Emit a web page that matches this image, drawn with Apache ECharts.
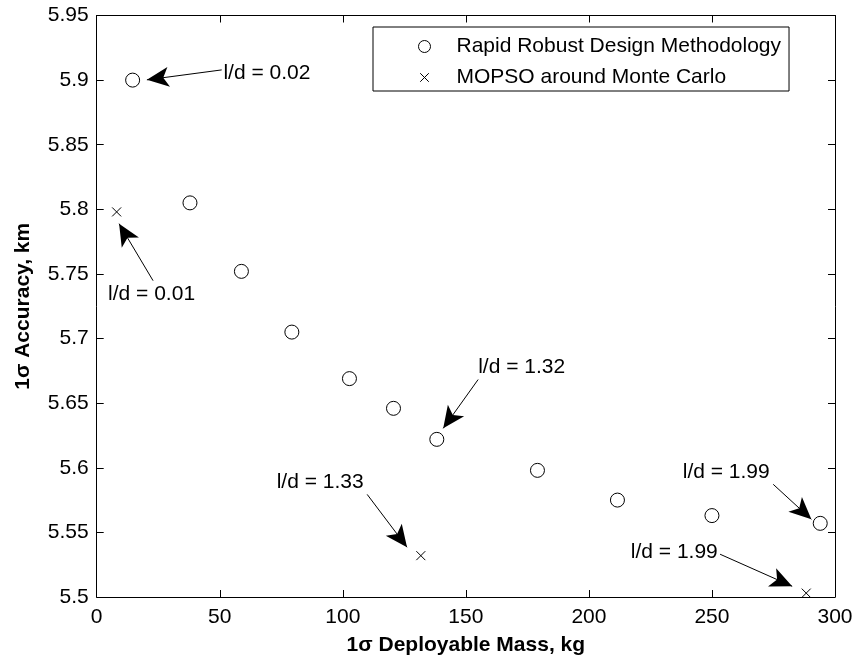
<!DOCTYPE html>
<html><head><meta charset="utf-8">
<script src="https://cdn.jsdelivr.net/npm/echarts@6/dist/echarts.min.js"></script>
<style>html,body{margin:0;padding:0;background:#fff}#chart{width:857px;height:661px}</style>
</head><body><div id="chart"></div>
<script>
// Rapid Robust Design Methodology results (mass kg, accuracy km)
const rrdmMass = [14.6, 37.9, 58.8, 79.3, 102.7, 120.6, 138.2, 179.1, 211.6, 250.0, 294.0];
const rrdmAcc  = [5.900, 5.805, 5.752, 5.705, 5.669, 5.646, 5.622, 5.598, 5.575, 5.563, 5.557];
// MOPSO around Monte Carlo results
const mopsoMass = [8.1, 131.7, 288.3];
const mopsoAcc  = [5.798, 5.532, 5.503];
// Annotations: text, text anchor, arrow start and arrow tip (data units)
const noteText  = ['l/d = 0.02', 'l/d = 0.01', 'l/d = 1.32', 'l/d = 1.33', 'l/d = 1.99', 'l/d = 1.99'];
const noteAt    = [[51.5, 5.9056], [22.3, 5.734], [155.0, 5.6776], [90.8, 5.5887], [255.8, 5.5964], [234.7, 5.5346]];
const noteAlign = ['left', 'center', 'left', 'center', 'center', 'center'];
const arrowFrom = [[50.8, 5.9079], [22.9, 5.7448], [155.0, 5.6683], [109.9, 5.5794], [274.9, 5.5872], [253.3, 5.5331]];
const arrowTo   = [[20.4, 5.9002], [9.1, 5.7889], [140.8, 5.6305], [126.1, 5.5385], [290.4, 5.5601], [282.6, 5.5083]];
// Axis settings
const xMin = 0, xMax = 300, xStep = 50;
const yMin = 5.5, yMax = 5.95, yStep = 0.05;
const seriesNames = ['Rapid Robust Design Methodology', 'MOPSO around Monte Carlo'];

const FONT = "'Liberation Sans', Arial, Helvetica, sans-serif";
const crossPath = 'path://M0,0L10,10M10,0L0,10';
// legend cross drawn inside a larger empty frame so it stays small
const crossLegend = 'path://M-2,-2M12,12M0,0L10,10M10,0L0,10';

const chart = echarts.init(document.getElementById('chart'), null, { renderer: 'canvas' });

const tickStyle = { show: true, inside: true, length: 7, lineStyle: { color: '#000', width: 1 } };
const axisBase = {
  axisLine: { show: true, onZero: false, lineStyle: { color: '#000', width: 1 } },
  axisTick: tickStyle,
  splitLine: { show: false }
};

chart.setOption({
  animation: false,
  backgroundColor: '#fff',
  textStyle: { fontFamily: FONT },
  grid: { left: 96.7, right: 22, top: 15.5, bottom: 63, containLabel: false },
  legend: {
    data: [
      { name: seriesNames[0], icon: 'circle', itemStyle: { color: '#fff', borderColor: '#000', borderWidth: 1 } },
      { name: seriesNames[1], icon: crossLegend, itemStyle: { color: 'none', borderColor: '#000', borderWidth: 1 } }
    ],
    orient: 'vertical',
    left: 373, top: 27,
    backgroundColor: '#fff',
    borderColor: '#000', borderWidth: 1, borderRadius: 0,
    padding: [9, 8, 3, 43],
    itemGap: 10,
    itemWidth: 12, itemHeight: 12,
    selectedMode: false,
    textStyle: { fontFamily: FONT, fontSize: 21, color: '#000', padding: [0, 0, 0, 21] }
  },
  xAxis: [
    Object.assign({
      type: 'value', min: xMin, max: xMax, interval: xStep, position: 'bottom',
      name: '1\u03c3 Deployable Mass, kg', nameLocation: 'middle', nameGap: 38,
      nameTextStyle: { fontFamily: FONT, fontSize: 21, fontWeight: 'bold', color: '#000' },
      axisLabel: { fontFamily: FONT, fontSize: 21, color: '#000', margin: 10 }
    }, axisBase),
    Object.assign({
      type: 'value', min: xMin, max: xMax, interval: xStep, position: 'top',
      axisLabel: { show: false }
    }, axisBase)
  ],
  yAxis: [
    Object.assign({
      type: 'value', min: yMin, max: yMax, interval: yStep, position: 'left',
      name: '1\u03c3 Accuracy, km', nameLocation: 'middle', nameGap: 63,
      nameTextStyle: { fontFamily: FONT, fontSize: 21, fontWeight: 'bold', color: '#000' },
      axisLabel: { fontFamily: FONT, fontSize: 21, color: '#000', margin: 8 }
    }, axisBase),
    Object.assign({
      type: 'value', min: yMin, max: yMax, interval: yStep, position: 'right',
      axisLabel: { show: false }
    }, axisBase)
  ],
  series: [
    {
      name: seriesNames[0], type: 'scatter', xAxisIndex: 0, yAxisIndex: 0,
      symbol: 'circle', symbolSize: 14,
      itemStyle: { color: '#fff', borderColor: '#000', borderWidth: 1, opacity: 1 },
      data: rrdmMass.map((m, i) => [m, rrdmAcc[i]]), z: 3
    },
    {
      name: seriesNames[1], type: 'scatter', xAxisIndex: 0, yAxisIndex: 0,
      symbol: crossPath, symbolSize: 9,
      itemStyle: { color: 'none', borderColor: '#000', borderWidth: 1, opacity: 1 },
      data: mopsoMass.map((m, i) => [m, mopsoAcc[i]]), z: 3
    },
    {
      name: 'notes', type: 'scatter', xAxisIndex: 0, yAxisIndex: 0,
      symbolSize: 0.01, silent: true, z: 4,
      itemStyle: { color: '#000', opacity: 1 },
      data: noteText.map((t, i) => ({
        name: t, value: noteAt[i],
        label: { align: noteAlign[i] }
      })),
      label: {
        show: true, position: [0, 0], verticalAlign: 'middle',
        formatter: p => p.name, opacity: 1,
        fontFamily: FONT, fontSize: 21, color: '#000'
      },
      markLine: {
        silent: true, animation: false,
        symbol: ['none', 'arrow'], symbolSize: [15, 22],
        label: { show: false },
        lineStyle: { color: '#000', width: 1, type: 'solid', opacity: 1 },
        itemStyle: { color: '#000' },
        data: arrowFrom.map((s, i) => [{ coord: s }, { coord: arrowTo[i] }])
      }
    }
  ]
});
</script>
</body></html>
